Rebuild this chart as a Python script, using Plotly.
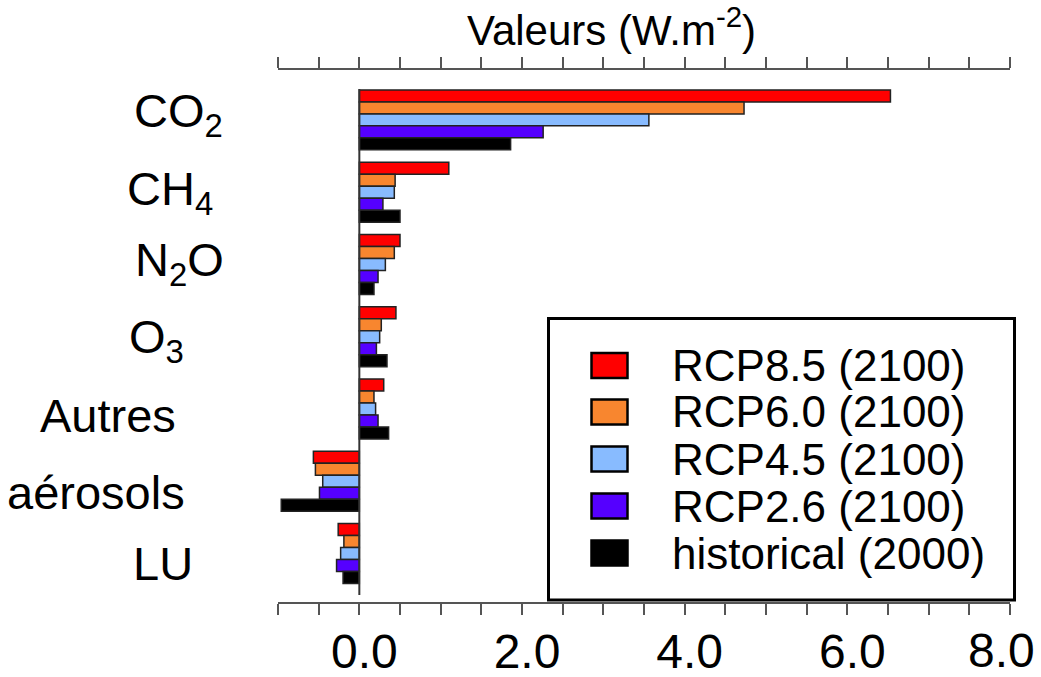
import plotly.graph_objects as go

# ---------------- data ----------------
categories = ["CO<sub>2</sub>", "CH<sub>4</sub>", "N<sub>2</sub>O", "O<sub>3</sub>", "Autres", "aérosols", "LU"]
series_names = ["RCP8.5 (2100)", "RCP6.0 (2100)", "RCP4.5 (2100)", "RCP2.6 (2100)", "historical (2000)"]
rcp85 = [6.53, 1.10, 0.50, 0.45, 0.30, -0.565, -0.26]
rcp60 = [4.73, 0.44, 0.43, 0.27, 0.18, -0.54, -0.19]
rcp45 = [3.56, 0.43, 0.32, 0.25, 0.20, -0.45, -0.23]
rcp26 = [2.26, 0.29, 0.23, 0.21, 0.23, -0.49, -0.28]
historical = [1.86, 0.50, 0.18, 0.34, 0.36, -0.96, -0.20]
series_values = [rcp85, rcp60, rcp45, rcp26, historical]
x_tick_vals = [0, 2, 4, 6, 8]
x_tick_text = ["0.0", "2.0", "4.0", "6.0", "8.0"]
axis_title = "Valeurs (W.m<sup>-2</sup>)"

# ---------------- style ----------------
colors = ["#FF0000", "#F8862F", "#88BBFF", "#5500FF", "#000000"]
FONT = "Liberation Sans, Arial, sans-serif"
W, H = 1041, 677
L, R, T, B = 278, 31, 70, 75
PW, PH = W - L - R, H - T - B


def px_x(px):
    return (px - L) / PW


def px_y(py):
    return (H - B - py) / PH


fig = go.Figure()
for name, vals, col in zip(series_names, series_values, colors):
    fig.add_trace(go.Bar(
        y=categories, x=vals, name=name, orientation="h",
        marker=dict(color=col, line=dict(color="#222222", width=1.5)),
        showlegend=False,
    ))

# dummy trace for the top axis
fig.add_trace(go.Scatter(x=[None], y=[None], xaxis="x2", showlegend=False, hoverinfo="skip"))

axis_col = "#555555"
fig.update_layout(
    template="none",
    width=W, height=H, autosize=False,
    margin=dict(l=L, r=R, t=T, b=B, pad=0),
    paper_bgcolor="white", plot_bgcolor="white",
    font=dict(family=FONT, color="black"),
    barmode="group", bargap=0.17, bargroupgap=0,
    xaxis=dict(
        range=[-1, 8], showgrid=False, zeroline=False, automargin=False,
        showline=True, linecolor=axis_col, linewidth=2,
        ticks="outside", ticklen=11, tickwidth=2, tickcolor=axis_col,
        tickmode="array", tickvals=x_tick_vals[:-1], ticktext=x_tick_text[:-1],
        tickfont=dict(size=48, family=FONT, color="black"),
        ticklabelstandoff=-5, ticklabelshift=5, ticklabeloverflow="allow",
        minor=dict(dtick=0.5, tick0=0, ticks="outside", ticklen=11, tickwidth=2,
                   tickcolor=axis_col, showgrid=False),
    ),
    xaxis2=dict(
        overlaying="x", side="top", matches="x", anchor="y", automargin=False,
        showgrid=False, zeroline=False, showline=True, linecolor=axis_col, linewidth=2,
        ticks="outside", ticklen=11, tickwidth=2, tickcolor=axis_col,
        tickmode="linear", tick0=0, dtick=0.5, showticklabels=False,
    ),
    yaxis=dict(
        type="category", categoryarray=categories, range=[6.67, -0.69], automargin=False,
        showticklabels=False, showgrid=False, zeroline=False, showline=False, ticks="",
    ),
)

shapes = []
# zero line
shapes.append(dict(type="line", xref="x", yref="paper", x0=0, x1=0,
                   y0=px_y(595), y1=px_y(89), line=dict(color="#333333", width=2), layer="above"))
# legend box
shapes.append(dict(type="rect", xref="paper", yref="paper",
                   x0=px_x(548.5), x1=px_x(1014.5), y0=px_y(600), y1=px_y(318.5),
                   line=dict(color="black", width=3), fillcolor="rgba(0,0,0,0)", layer="above"))
annotations = []
row_centers = [365.5, 412, 459, 506, 553]
for name, col, yc in zip(series_names, colors, row_centers):
    shapes.append(dict(type="rect", xref="paper", yref="paper",
                       x0=px_x(591.5), x1=px_x(627.5), y0=px_y(yc + 12.5), y1=px_y(yc - 12.5),
                       line=dict(color="black", width=2.5), fillcolor=col, layer="above"))
    annotations.append(dict(xref="paper", yref="paper", x=px_x(670), y=px_y(yc),
                            xanchor="left", yanchor="middle", text=name, showarrow=False,
                            font=dict(size=44, family=FONT, color="black")))

# last x tick label (kept inside the page at the right edge)
annotations.append(dict(xref="x", yref="paper", x=x_tick_vals[-1], y=px_y(650),
                        xanchor="right", yanchor="middle", xshift=27, text=x_tick_text[-1],
                        showarrow=False, font=dict(size=48, family=FONT, color="black")))

# category labels
label_left = [132, 125, 133, 127, 38, 5, 131]
label_dy = [-6, 0, -1, 3, 6, 11, 10]
for cat, lx, dy in zip(categories, label_left, label_dy):
    annotations.append(dict(xref="paper", yref="y", x=0, y=cat, xshift=lx - L, yshift=-dy,
                            xanchor="left", yanchor="middle", text=cat, showarrow=False,
                            font=dict(size=47, family=FONT, color="black")))

# axis title
annotations.append(dict(xref="paper", yref="paper", x=px_x(611), y=px_y(27),
                        xanchor="center", yanchor="middle", text=axis_title, showarrow=False,
                        font=dict(size=42, family=FONT, color="black")))

fig.update_layout(shapes=shapes, annotations=annotations)
fig.write_html("out.html", config={"displayModeBar": False},
               post_script="document.body.style.margin='0';document.body.style.overflow='hidden';")
